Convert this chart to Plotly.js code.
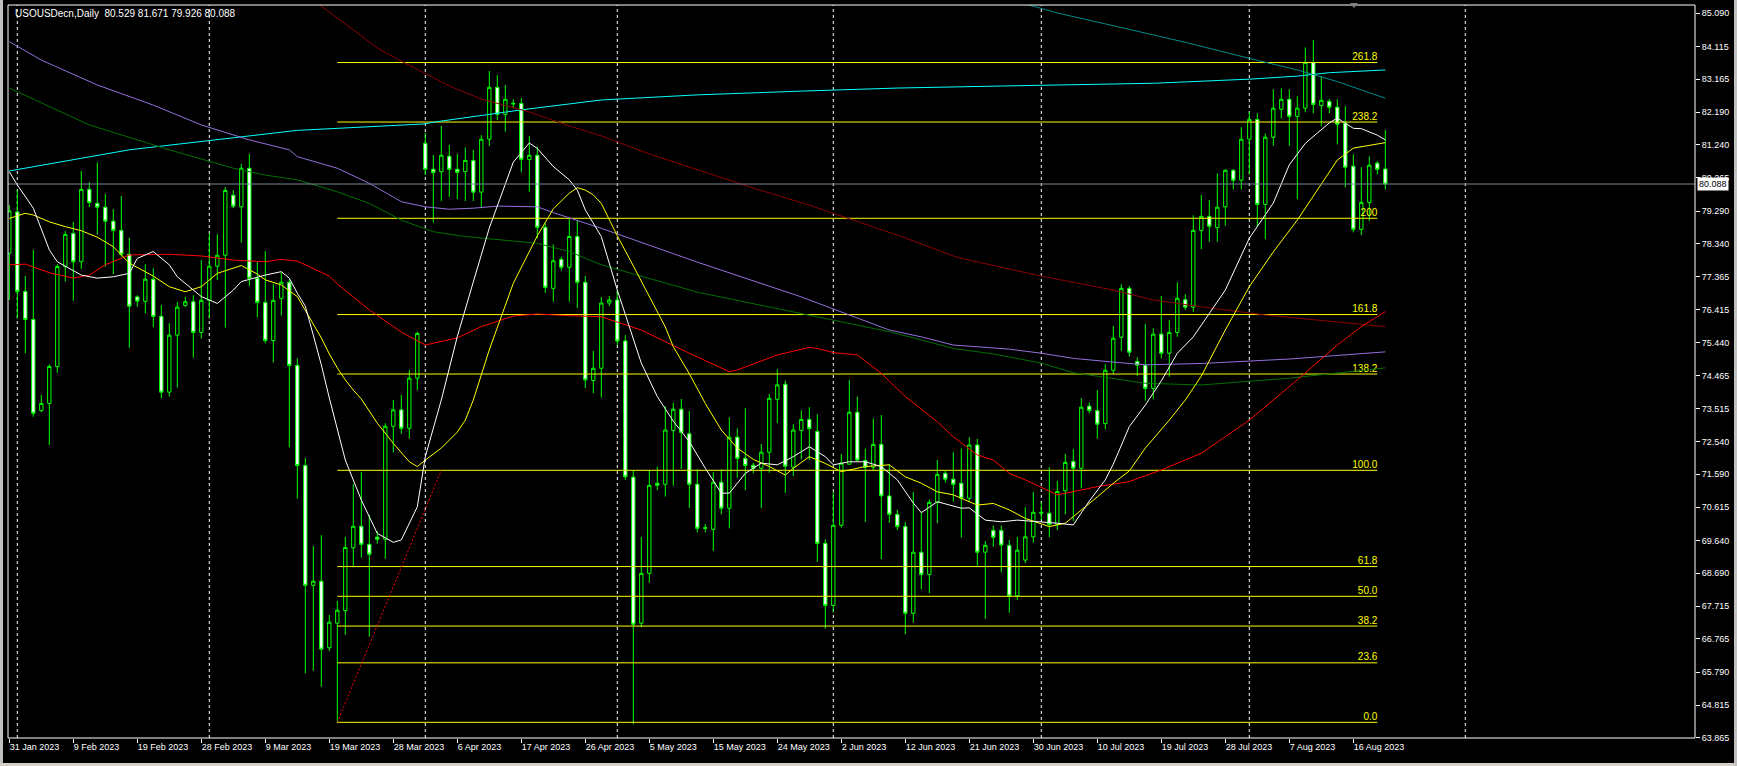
<!DOCTYPE html>
<html>
<head>
<meta charset="utf-8">
<script src="https://cdn.plot.ly/plotly-3.0.1.min.js"></script>
<style>
  html, body { margin: 0; padding: 0; background: #000; }
  #chart { width: 1737px; height: 766px; }
</style>
</head>
<body>
<div id="chart"></div>
<script>
// ---------------- DATA ----------------
const symbolTitle = "USOUSDecn,Daily  80.529 81.671 79.926 80.088";

const dates = [
 "2023-01-31",
 "2023-02-01","2023-02-02","2023-02-03","2023-02-05","2023-02-06","2023-02-07","2023-02-08","2023-02-09","2023-02-10",
 "2023-02-12","2023-02-13","2023-02-14","2023-02-15","2023-02-16","2023-02-17","2023-02-19","2023-02-20","2023-02-21",
 "2023-02-22","2023-02-23","2023-02-24","2023-02-26","2023-02-27","2023-02-28",
 "2023-03-01","2023-03-02","2023-03-03","2023-03-05","2023-03-06","2023-03-07","2023-03-08","2023-03-09","2023-03-10",
 "2023-03-12","2023-03-13","2023-03-14","2023-03-15","2023-03-16","2023-03-17","2023-03-19","2023-03-20","2023-03-21",
 "2023-03-22","2023-03-23","2023-03-24","2023-03-26","2023-03-27","2023-03-28","2023-03-29","2023-03-30","2023-03-31",
 "2023-04-02","2023-04-03","2023-04-04","2023-04-05","2023-04-06","2023-04-09","2023-04-10","2023-04-11","2023-04-12",
 "2023-04-13","2023-04-14","2023-04-16","2023-04-17","2023-04-18","2023-04-19","2023-04-20","2023-04-21","2023-04-23",
 "2023-04-24","2023-04-25","2023-04-26","2023-04-27","2023-04-28","2023-04-30",
 "2023-05-01","2023-05-02","2023-05-03","2023-05-04","2023-05-05","2023-05-07","2023-05-08","2023-05-09","2023-05-10",
 "2023-05-11","2023-05-12","2023-05-14","2023-05-15","2023-05-16","2023-05-17","2023-05-18","2023-05-19","2023-05-21",
 "2023-05-22","2023-05-23","2023-05-24","2023-05-25","2023-05-26","2023-05-28","2023-05-29","2023-05-30","2023-05-31",
 "2023-06-01","2023-06-02","2023-06-04","2023-06-05","2023-06-06","2023-06-07","2023-06-08","2023-06-09","2023-06-11",
 "2023-06-12","2023-06-13","2023-06-14","2023-06-15","2023-06-16","2023-06-18","2023-06-19","2023-06-20","2023-06-21",
 "2023-06-22","2023-06-23","2023-06-25","2023-06-26","2023-06-27","2023-06-28","2023-06-29","2023-06-30",
 "2023-07-02","2023-07-03","2023-07-04","2023-07-05","2023-07-06","2023-07-07","2023-07-09","2023-07-10","2023-07-11",
 "2023-07-12","2023-07-13","2023-07-14","2023-07-16","2023-07-17","2023-07-18","2023-07-19","2023-07-20","2023-07-21",
 "2023-07-23","2023-07-24","2023-07-25","2023-07-26","2023-07-27","2023-07-28","2023-07-30","2023-07-31",
 "2023-08-01","2023-08-02","2023-08-03","2023-08-04","2023-08-06","2023-08-07","2023-08-08","2023-08-09","2023-08-10",
 "2023-08-11","2023-08-13","2023-08-14","2023-08-15","2023-08-16","2023-08-17","2023-08-18","2023-08-20","2023-08-21"
];

const opens = [
 78.06,79.27,76.94,76.12,73.45,73.66,74.74,77.67,78.64,77.81,
 79.93,79.52,79.41,79.00,78.73,78.03,76.78,76.65,77.30,76.21,
 73.99,75.66,76.53,76.64,75.74,76.68,77.68,78.00,79.76,79.42,
 80.55,77.33,76.62,75.50,76.74,77.21,74.77,71.84,68.33,68.45,
 66.50,67.22,67.59,69.43,70.06,69.53,69.74,69.68,72.99,73.47,
 72.93,74.40,81.28,80.52,80.45,80.90,80.52,80.45,80.78,79.85,
 81.40,82.92,82.13,82.43,82.45,80.81,80.93,78.82,77.03,77.88,
 77.65,78.55,77.21,74.33,74.69,76.60,76.69,75.49,71.50,67.22,
 68.68,71.32,71.29,72.87,73.49,72.77,71.29,70.02,69.97,71.35,
 70.59,72.67,72.05,71.85,71.76,72.23,73.78,74.22,71.79,72.87,
 73.19,72.84,69.56,67.74,70.09,71.88,73.40,71.99,71.79,72.46,
 70.95,70.41,70.05,67.51,69.30,68.65,70.76,71.61,71.44,71.32,
 70.88,72.44,69.30,69.94,69.94,69.50,68.02,69.07,69.75,70.44,
 70.44,70.11,71.10,71.96,71.76,73.58,73.45,73.07,74.63,75.60,
 77.03,74.89,74.78,74.10,75.69,75.13,75.74,76.70,76.48,78.73,
 79.14,78.81,79.42,80.49,80.20,81.40,81.98,79.49,81.46,82.28,
 82.57,82.07,82.31,83.65,82.39,82.51,82.34,81.87,80.61,78.76,
 79.55,80.70,80.529
];
const highs = [
 79.47,79.91,77.39,78.16,73.91,74.81,77.74,78.71,78.98,80.47,
 80.14,80.72,79.80,79.35,79.74,78.51,76.83,77.74,77.62,76.54,
 76.01,76.63,76.78,76.83,77.86,78.64,78.62,80.00,79.91,80.68,
 80.97,77.80,78.12,77.16,77.50,77.30,74.98,72.06,69.48,69.80,
 67.46,67.87,69.75,71.30,71.65,70.39,69.92,73.08,73.76,73.91,
 74.64,75.76,81.59,80.94,81.79,81.23,80.97,81.16,81.09,81.52,
 83.40,83.28,82.99,82.57,82.60,81.50,81.18,78.94,78.32,77.96,
 79.08,79.03,77.39,75.20,76.78,76.81,76.98,75.66,71.69,69.75,
 71.71,71.81,73.58,73.68,73.79,73.44,71.73,70.13,71.64,71.73,
 73.25,72.93,73.52,71.92,72.47,73.94,74.66,74.33,73.05,73.46,
 73.55,73.34,69.68,71.07,72.18,74.35,73.86,72.34,73.22,73.32,
 71.88,70.54,70.19,71.06,70.49,70.84,72.00,71.68,72.23,72.34,
 72.67,72.62,69.63,70.08,70.08,69.66,69.75,70.62,71.06,70.77,
 71.79,71.39,72.18,72.32,73.81,73.69,74.05,74.81,75.93,77.15,
 77.10,75.01,75.99,75.86,76.81,76.10,77.21,76.86,79.17,79.77,
 79.62,80.40,80.52,80.52,81.75,82.21,82.16,81.57,82.86,82.89,
 82.86,82.66,84.09,84.31,83.24,82.58,82.57,82.37,80.96,80.58,
 80.90,80.76,81.671
];
const lows = [
 76.69,76.15,75.13,73.27,73.41,72.44,74.56,77.23,76.67,77.60,
 79.41,78.60,77.67,77.45,77.96,75.29,76.49,76.30,75.89,73.81,
 73.86,74.12,76.48,75.00,75.56,76.15,77.27,75.88,79.38,78.37,
 77.10,76.18,75.42,74.86,76.23,72.37,70.87,65.75,65.83,65.36,
 66.40,64.30,66.88,68.86,69.14,66.83,69.55,69.11,72.22,72.77,
 72.63,74.05,80.35,78.96,79.59,79.71,79.65,79.59,79.59,79.38,
 81.20,81.96,81.62,82.31,80.43,79.86,78.50,76.90,76.64,77.55,
 76.64,76.45,74.11,73.96,73.83,76.51,75.37,71.42,64.26,67.10,
 68.41,71.12,70.93,71.25,71.74,70.60,69.88,69.88,69.34,70.41,
 70.00,71.48,71.12,71.61,70.60,71.63,73.08,71.04,71.53,72.02,
 72.00,69.02,67.06,67.54,70.02,71.86,71.97,70.19,71.71,69.10,
 70.16,69.95,66.90,67.24,68.21,68.10,70.15,71.34,70.78,69.73,
 70.80,68.90,67.35,69.46,68.71,67.53,67.90,68.98,69.58,70.24,
 69.74,69.95,70.41,70.22,71.17,73.37,72.63,72.90,74.52,75.20,
 75.03,74.46,73.74,73.78,74.98,74.44,75.61,76.40,76.34,78.18,
 78.40,78.40,78.87,79.93,79.93,80.37,78.84,78.47,81.21,82.01,
 81.21,79.64,82.19,82.16,81.78,82.16,81.25,79.99,78.67,78.59,
 79.00,80.37,79.926
];
const closes = [
 79.30,76.94,76.12,73.37,73.66,74.74,77.67,78.61,77.81,79.93,
 79.55,79.41,79.00,78.73,78.03,76.51,76.66,77.30,76.21,73.99,
 75.66,76.48,76.64,75.74,76.68,77.68,78.00,79.90,79.44,80.55,
 77.33,76.62,75.50,76.68,77.21,74.77,71.84,68.33,68.45,66.46,
 67.25,67.60,69.44,70.06,69.53,69.24,69.68,72.99,73.47,72.93,
 74.40,75.71,80.52,80.42,80.93,80.52,80.43,80.78,79.85,81.40,
 82.92,82.13,82.57,82.45,80.81,80.93,78.82,77.06,77.84,77.65,
 78.55,77.21,74.35,74.69,76.60,76.69,75.49,71.51,67.19,68.68,
 71.26,71.26,72.88,73.49,72.81,71.29,70.00,70.00,71.35,70.59,
 72.67,72.05,71.84,71.76,72.23,73.81,74.20,71.82,72.88,73.19,
 72.92,69.56,67.74,70.09,71.91,73.40,72.00,71.79,72.46,70.95,
 70.41,70.05,67.51,69.30,68.65,70.76,71.58,71.44,71.29,70.88,
 72.44,69.30,69.50,69.74,69.51,68.02,69.36,69.75,70.47,70.47,
 70.11,71.08,71.93,71.76,73.55,73.45,73.05,74.63,75.57,77.03,
 75.16,74.78,74.10,75.69,75.13,75.74,76.74,76.48,78.73,79.14,
 78.85,79.41,80.49,80.20,81.40,81.98,79.49,81.46,82.31,82.57,
 82.07,82.31,83.65,82.42,82.54,82.34,81.84,80.58,78.76,79.55,
 80.64,80.52,80.088
];

// Moving-average lines (bar index -> price)
const maWhiteBars = [0,1,3,5,6,9,11,13,15,16,18,20,21,24,26,28,29,32,34,35,36,37,38,39,40,42,44,46,48,49,51,52,54,56,58,60,63,65,66,68,70,71,72,74,76,78,79,81,83,85,87,89,90,92,94,96,98,100,102,103,105,107,109,111,113,114,116,119,120,122,124,126,129,131,133,135,137,138,140,142,144,146,148,149,152,155,156,158,160,162,165,166,168,169,171,172];
const maWhiteVals = [80.45,80.06,79.38,78.16,77.81,77.42,77.33,77.37,77.47,77.91,78.11,77.72,77.37,76.79,76.59,76.98,77.23,77.42,77.52,77.33,76.89,76.51,75.66,74.79,73.82,72.00,70.83,69.85,69.59,69.66,70.63,72.10,73.76,75.62,77.22,78.80,80.73,81.29,81.13,80.60,80.21,79.91,79.33,78.55,76.98,75.52,74.84,73.86,73.14,72.54,71.76,71.03,71.03,71.61,71.91,71.86,72.10,72.39,72.10,71.86,71.95,71.95,71.81,71.42,70.74,70.46,70.78,70.59,70.60,70.24,70.19,70.24,70.19,70.15,70.10,70.80,71.42,71.88,72.98,73.61,74.32,75.13,75.61,75.96,76.98,78.50,78.84,79.53,80.65,81.28,81.88,82.02,81.72,81.71,81.52,81.38];

const maYellowBars = [0,2,3,5,7,9,11,13,15,18,20,22,24,26,29,31,32,34,36,37,38,39,40,41,42,43,44,46,48,50,51,52,54,56,57,58,60,63,66,68,70,71,72,73,74,76,78,80,82,83,85,87,89,91,93,95,97,98,100,102,104,107,110,112,114,116,118,121,123,125,127,130,132,136,138,140,142,145,147,149,152,155,158,161,163,166,168,170,172];
const maYellowVals = [79.08,79.23,79.18,78.98,78.84,78.72,78.53,78.25,77.77,77.39,77.08,76.93,77.08,77.47,77.70,77.45,77.28,77.13,76.79,76.40,75.99,75.58,75.11,74.70,74.35,74.05,73.79,73.08,72.49,71.95,71.81,72.00,72.35,72.82,73.17,73.76,75.23,77.18,78.57,79.36,79.82,79.98,79.91,79.77,79.52,78.57,77.69,76.78,75.90,75.32,74.53,73.66,72.88,72.35,72.02,71.81,71.56,71.76,72.10,71.90,71.66,71.81,71.86,71.51,71.32,71.07,70.98,70.68,70.73,70.54,70.29,70.05,70.15,70.92,71.32,71.68,72.35,73.17,73.76,74.46,75.81,77.08,78.10,79.03,79.74,80.79,81.14,81.23,81.30];

const maRedBars = [0,2,5,8,10,12,15,20,24,28,32,34,36,40,41,45,49,52,56,59,63,66,70,74,79,85,90,91,96,100,101,103,106,109,112,116,118,121,123,125,127,131,136,140,144,149,155,161,166,169,172];
const maRedVals = [77.72,77.74,77.49,77.33,77.42,77.72,78.01,78.03,77.98,77.86,77.81,77.88,77.83,77.39,77.16,76.40,75.75,75.37,75.58,75.91,76.22,76.28,76.23,76.20,75.81,75.13,74.59,74.64,75.08,75.30,75.27,75.15,75.08,74.54,73.86,73.12,72.68,72.15,72.00,71.61,71.42,70.98,71.22,71.37,71.71,72.20,73.17,74.35,75.37,75.91,76.35];

const maMaroonBars = [37,39,44,46,49,55,59,65,70,74,80,87,93,100,106,112,118,119,129,138,143,149,157,172];
const maMaroonVals = [85.75,85.30,84.43,84.07,83.69,82.96,82.58,82.20,81.79,81.50,80.97,80.44,79.97,79.47,78.98,78.51,77.98,77.91,77.39,76.98,76.69,76.49,76.25,75.91];

const maGreenBars = [0,10,20,28,32,36,41,45,49,53,57,61,66,70,74,86,99,110,114,118,123,129,133,138,142,149,160,172];
const maGreenVals = [82.90,81.82,81.09,80.55,80.35,80.21,79.86,79.52,79.03,78.69,78.55,78.47,78.35,78.11,77.72,76.92,76.28,75.76,75.52,75.27,75.11,74.84,74.56,74.40,74.25,74.20,74.40,74.70];

const maPurpleBars = [0,4,11,18,24,30,35,36,41,45,49,52,55,58,61,66,68,72,74,86,99,110,114,118,125,129,133,138,142,149,160,172];
const maPurpleVals = [84.26,83.72,82.99,82.40,81.82,81.38,81.09,80.89,80.55,80.11,79.57,79.42,79.35,79.38,79.44,79.42,79.25,78.94,78.79,77.80,76.78,75.81,75.61,75.37,75.25,75.13,74.98,74.87,74.79,74.83,74.96,75.17];

const maCyanBars = [0,15,36,52,53,64,74,86,99,111,124,136,143,155,161,165,172];
const maCyanVals = [80.47,81.09,81.66,81.85,81.90,82.26,82.55,82.70,82.81,82.90,82.96,83.00,83.04,83.16,83.25,83.35,83.43];

const maTealBars = [125,127,131,137,142,147,155,161,166,172];
const maTealVals = [85.50,85.36,85.10,84.78,84.51,84.24,83.77,83.43,83.09,82.60];

// Fibonacci expansion
const fibStartBar = 41, fibAnchorBar = 54, fibEndBar = 171;
const fibPrice0 = 64.316, fibPrice100 = 71.700;
const fibRatios = [0, 23.6, 38.2, 50, 61.8, 100, 138.2, 161.8, 200, 238.2, 261.8];
const fibLabels = ["0.0","23.6","38.2","50.0","61.8","100.0","138.2","161.8","200","238.2","261.8"];

// Axis labels
const priceTickLabels = ["85.090","84.115","83.165","82.190","81.240","80.265","79.290","78.340","77.365","76.415","75.440","74.465","73.515","72.540","71.590","70.615","69.640","68.690","67.715","66.765","65.790","64.815","63.865"];
const dateTickDates = ["2023-01-31","2023-02-09","2023-02-19","2023-02-28","2023-03-09","2023-03-19","2023-03-28","2023-04-06","2023-04-17","2023-04-26","2023-05-05","2023-05-15","2023-05-24","2023-06-02","2023-06-12","2023-06-21","2023-06-30","2023-07-10","2023-07-19","2023-07-28","2023-08-07","2023-08-16"];
const futureSeparatorBars = [182]; // 1 Sep 2023 (beyond last bar)
const bidPrice = 80.088;

// ---------------- RENDER ----------------
const W = 1737, H = 766, ML = 8, MR = 42, MT = 5, MB = 28;
const PW = W - ML - MR, PH = H - MT - MB;
const px2paperX = px => (px - ML) / PW;
const px2paperY = py => 1 - (py - MT) / PH;

const idx = dates.map((d, i) => i);
const monthNames = ["Jan","Feb","Mar","Apr","May","Jun","Jul","Aug","Sep","Oct","Nov","Dec"];
const fmtDate = s => { const [y, m, d] = s.split("-"); return parseInt(d, 10) + " " + monthNames[parseInt(m, 10) - 1] + " " + y; };
const FONT = "Liberation Sans, Arial, sans-serif";

const traces = [];
const fibVals = fibRatios.map(r => fibPrice0 + (fibPrice100 - fibPrice0) * r / 100);

// Fib levels (background)
fibVals.forEach(v => {
  traces.push({ type: "scatter", mode: "lines", x: [fibStartBar, fibEndBar], y: [v, v],
    line: { color: "#ffff00", width: 1 }, hoverinfo: "skip" });
});
traces.push({ type: "scatter", mode: "text", x: fibVals.map(() => fibEndBar), y: fibVals,
  text: fibLabels, textposition: "top left",
  textfont: { family: FONT, size: 10, color: "#ffff00" }, hoverinfo: "skip" });
// Fib anchor line
traces.push({ type: "scatter", mode: "lines", x: [fibStartBar, fibAnchorBar], y: [fibPrice0, fibPrice100],
  line: { color: "#ff0000", width: 1, dash: "2px,2px" }, hoverinfo: "skip" });

// Candles
traces.push({
  type: "candlestick", x: idx, open: opens, high: highs, low: lows, close: closes,
  increasing: { line: { color: "#00ff00", width: 1 }, fillcolor: "#000000" },
  decreasing: { line: { color: "#00ff00", width: 1 }, fillcolor: "#ffffff" },
  whiskerwidth: 0, hoverinfo: "skip"
});

// MA lines
const ma = (bars, vals, color) => ({ type: "scatter", mode: "lines", x: bars, y: vals,
  line: { color: color, width: 1 }, hoverinfo: "skip" });
traces.push(ma(maCyanBars, maCyanVals, "#00ffff"));
traces.push(ma(maTealBars, maTealVals, "#008b8b"));
traces.push(ma(maMaroonBars, maMaroonVals, "#8b0000"));
traces.push(ma(maGreenBars, maGreenVals, "#007000"));
traces.push(ma(maPurpleBars, maPurpleVals, "#9370db"));
traces.push(ma(maRedBars, maRedVals, "#ff0000"));
traces.push(ma(maYellowBars, maYellowVals, "#ffff00"));
traces.push(ma(maWhiteBars, maWhiteVals, "#ffffff"));

// Month separators
const sepBars = [];
for (let i = 1; i < dates.length; i++) if (dates[i].slice(0, 7) !== dates[i - 1].slice(0, 7)) sepBars.push(i);
futureSeparatorBars.forEach(b => sepBars.push(b));

const shapes = [];
sepBars.forEach(b => shapes.push({ type: "line", xref: "x", yref: "paper", x0: b, x1: b, y0: 0, y1: 1,
  line: { color: "#ffffff", width: 1, dash: "3px,3px" }, layer: "below" }));
// Bid line
shapes.push({ type: "line", xref: "paper", yref: "y", x0: 0, x1: 1, y0: bidPrice, y1: bidPrice,
  line: { color: "#778899", width: 1 }, layer: "above" });
// Chart frame
shapes.push({ type: "rect", xref: "paper", yref: "paper", x0: 0, x1: 1, y0: 0, y1: 1,
  line: { color: "#ffffff", width: 1 }, fillcolor: "rgba(0,0,0,0)", layer: "above" });
// window edges
shapes.push({ type: "rect", xref: "paper", yref: "paper", x0: px2paperX(0), x1: px2paperX(3),
  y0: px2paperY(766), y1: px2paperY(0), line: { width: 0 }, fillcolor: "#c0c0c0" });
shapes.push({ type: "rect", xref: "paper", yref: "paper", x0: px2paperX(0), x1: px2paperX(1737),
  y0: px2paperY(766), y1: px2paperY(763), line: { width: 0 }, fillcolor: "#d4d0c8" });
shapes.push({ type: "rect", xref: "paper", yref: "paper", x0: px2paperX(1734), x1: px2paperX(1737),
  y0: px2paperY(766), y1: px2paperY(0), line: { width: 0 }, fillcolor: "#c0c0c0" });
// chart shift marker
const sx = 1354;
shapes.push({ type: "path", xref: "paper", yref: "paper",
  path: `M ${px2paperX(sx - 4)} ${px2paperY(3)} L ${px2paperX(sx + 4)} ${px2paperY(3)} L ${px2paperX(sx)} ${px2paperY(8)} Z`,
  line: { width: 0 }, fillcolor: "#808080" });

const annotations = [
  { xref: "paper", yref: "paper", x: px2paperX(13), y: px2paperY(14), xanchor: "left", yanchor: "middle",
    text: symbolTitle, showarrow: false, font: { family: FONT, size: 10, color: "#ffffff" } },
  { xref: "paper", yref: "y", x: 1, xshift: 2, y: bidPrice, xanchor: "left", yanchor: "middle",
    text: bidPrice.toFixed(3), showarrow: false, bgcolor: "#ffffff", borderpad: 1,
    font: { family: FONT, size: 9, color: "#000000" } }
];

const layout = {
  width: W, height: H,
  margin: { l: ML, r: MR, t: MT, b: MB, pad: 0 },
  paper_bgcolor: "#000000", plot_bgcolor: "#000000",
  showlegend: false, hovermode: false,
  boxgap: 0.4,
  xaxis: {
    type: "linear", range: [-0.1625, (1695 - 9.3) / 8],
    showgrid: false, zeroline: false, showline: false,
    tickvals: dateTickDates.map(d => dates.indexOf(d)),
    ticktext: dateTickDates.map(fmtDate),
    ticks: "outside", ticklen: 4, tickcolor: "#ffffff", tickwidth: 1,
    ticklabelposition: "outside right",
    tickfont: { family: FONT, size: 9, color: "#ffffff" },
    rangeslider: { visible: false }, fixedrange: true
  },
  yaxis: {
    side: "right", range: [63.8565, 85.3332],
    showgrid: false, zeroline: false, showline: false,
    tickvals: priceTickLabels.map(parseFloat), ticktext: priceTickLabels,
    ticks: "outside", ticklen: 4, tickcolor: "#ffffff", tickwidth: 1,
    tickfont: { family: FONT, size: 9, color: "#ffffff" },
    fixedrange: true
  },
  shapes: shapes,
  annotations: annotations
};

Plotly.newPlot("chart", traces, layout, { staticPlot: true, displayModeBar: false });
</script>
</body>
</html>
